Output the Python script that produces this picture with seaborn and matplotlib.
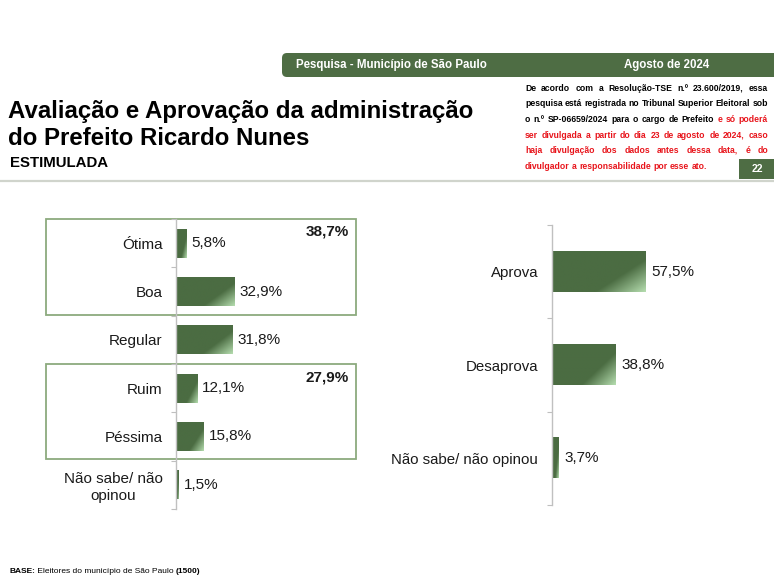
import numpy as np
import pandas as pd
import matplotlib
matplotlib.use("Agg")
import matplotlib.pyplot as plt
import seaborn as sns
from matplotlib.patches import Rectangle, FancyBboxPatch
from matplotlib.colors import to_rgb

# ---------------- data ----------------
aval_cats = ["Ótima", "Boa", "Regular", "Ruim", "Péssima", "Não sabe/ não\nopinou"]
aval_vals = [5.8, 32.9, 31.8, 12.1, 15.8, 1.5]
aval_group_totals = ["38,7%", "27,9%"]
aprov_cats = ["Aprova", "Desaprova", "Não sabe/ não opinou"]
aprov_vals = [57.5, 38.8, 3.7]

title_lines = ["Avaliação e Aprovação da administração", "do Prefeito Ricardo Nunes"]
subtitle = "ESTIMULADA"
header_left = "Pesquisa - Município de São Paulo"
header_right = "Agosto de 2024"
page_num = "22"

# ---------------- style ----------------
W, H = 774, 576
sns.set_theme(style="white")
plt.rcParams['font.family'] = ['Liberation Sans', 'DejaVu Sans']

DARK = np.array(to_rgb('#4b6c42'))
LIGHT = np.array(to_rgb('#b4dcae'))
GREEN = '#4e6d44'
BOX = '#8caa7e'
TXT = '#1a1a1a'

fig = plt.figure(figsize=(W / 100, H / 100), dpi=100)

# background axes in pixel coordinates
bg = fig.add_axes([0, 0, 1, 1], zorder=0)
bg.set_xlim(0, W)
bg.set_ylim(H, 0)
bg.axis('off')


def fx(x):
    return x / W


def fy(y):
    return 1 - y / H


def shade(ax):
    for p in list(ax.patches):
        x0, y0 = p.get_x(), p.get_y()
        w, h = p.get_width(), p.get_height()
        u = np.linspace(0, 1, 80)[None, :]
        v = np.linspace(0, 1, 40)[:, None]
        t = 0.6 * u + 0.4 * v
        f = np.clip((t - 0.68) / 0.32, 0, 1)
        img = DARK[None, None, :] * (1 - f[..., None]) + LIGHT[None, None, :] * f[..., None]
        ax.imshow(img, extent=(x0, x0 + w, y0 + h, y0), origin='upper',
                  aspect='auto', interpolation='bilinear', zorder=p.get_zorder() + 0.1)


def style_axis(ax, n, pad_pt, fs):
    ax.set_xlim(0, 100)
    ax.set_ylim(n - 0.5, -0.5)
    for s in ['top', 'right', 'bottom']:
        ax.spines[s].set_visible(False)
    ax.spines['left'].set_color('#c0c0c0')
    ax.spines['left'].set_linewidth(1.0)
    ax.set_xticks([])
    ax.set_xlabel('')
    ax.set_ylabel('')
    ax.tick_params(axis='y', which='major', left=False, length=0, pad=pad_pt,
                   labelsize=fs, labelcolor=TXT)
    ax.set_yticks(np.arange(-0.5, n, 1), minor=True)
    ax.tick_params(axis='y', which='minor', left=True, length=3.5, width=0.8,
                   color='#bfbfbf', direction='out')
    ax.set_facecolor('none')
    for t in ax.get_yticklabels():
        t.set_multialignment('center')


def fmt(v):
    return f"{v:.1f}%".replace('.', ',')


# ---------------- left chart ----------------
axL = fig.add_axes([fx(176), fy(509), 177 / W, 290 / H], zorder=2)
dfL = pd.DataFrame({'cat': aval_cats, 'val': aval_vals})
sns.barplot(data=dfL, x='val', y='cat', orient='h', ax=axL, width=0.6,
            color=DARK, saturation=1)
shade(axL)
style_axis(axL, len(aval_cats), 9.5, 11)
for i, v in enumerate(aval_vals):
    axL.text(v + 2.8, i, fmt(v), va='center', ha='left', fontsize=11, color=TXT)

# ---------------- right chart ----------------
axR = fig.add_axes([fx(552), fy(505), 163 / W, 280 / H], zorder=2)
dfR = pd.DataFrame({'cat': aprov_cats, 'val': aprov_vals})
sns.barplot(data=dfR, x='val', y='cat', orient='h', ax=axR, width=0.43,
            color=DARK, saturation=1)
shade(axR)
style_axis(axR, len(aprov_cats), 10, 10.8)
for i, v in enumerate(aprov_vals):
    axR.text(v + 3.7, i, fmt(v), va='center', ha='left', fontsize=11, color=TXT)

# ---------------- group boxes ----------------
bg.add_patch(Rectangle((46, 219), 310, 96, fill=False, ec=BOX, lw=1.3))
bg.add_patch(Rectangle((46, 364), 310, 95, fill=False, ec=BOX, lw=1.3))
bg.text(349, 232, aval_group_totals[0], ha='right', va='center', fontsize=11,
        fontweight='bold', color=TXT)
bg.text(349, 378, aval_group_totals[1], ha='right', va='center', fontsize=11,
        fontweight='bold', color=TXT)

# ---------------- header ----------------
bg.add_patch(FancyBboxPatch((282, 53), 520, 24, boxstyle="round,pad=0,rounding_size=5",
                            fc=GREEN, ec='none'))
bg.text(391, 65, header_left, ha='center', va='center', fontsize=8.3,
        fontweight='bold', color='white')
bg.text(667, 65, header_right, ha='center', va='center', fontsize=8.3,
        fontweight='bold', color='white')

# title
bg.text(8, 118, title_lines[0], ha='left', va='baseline', fontsize=17.3,
        fontweight='bold', color='black')
bg.text(8, 145, title_lines[1], ha='left', va='baseline', fontsize=17.3,
        fontweight='bold', color='black')
bg.text(10, 167, subtitle, ha='left', va='baseline', fontsize=10.8,
        fontweight='bold', color='black')

# separator line and page number
bg.plot([0, W], [181, 181], color='#d0d4cc', lw=1.6, solid_capstyle='butt')
bg.add_patch(Rectangle((739, 159), 40, 20, fc=GREEN, ec='none'))
bg.text(757, 169.5, page_num, ha='center', va='center', fontsize=7.5,
        fontweight='bold', color='white')

# ---------------- disclaimer (justified) ----------------
RED = '#e8141b'
disc = [
    [("De acordo com a Resolução-TSE n.º 23.600/2019, essa", 'black')],
    [("pesquisa está registrada no Tribunal Superior Eleitoral sob", 'black')],
    [("o n.º SP-06659/2024 para o cargo de Prefeito", 'black'), ("e só poderá", RED)],
    [("ser divulgada a partir do dia 23 de agosto de 2024, caso", RED)],
    [("haja divulgação dos dados antes dessa data, é do", RED)],
    [("divulgador a responsabilidade por esse ato.", RED)],
]
ys = [88, 103.5, 119, 134.5, 150, 166]
X0, X1 = 525, 768
fs_d = 6.2
renderer = fig.canvas.get_renderer()
tmp = bg.text(0, 0, "a a", fontsize=fs_d, fontweight='bold')
tmp2 = bg.text(0, 0, "aa", fontsize=fs_d, fontweight='bold')
space_w = tmp.get_window_extent(renderer).width - tmp2.get_window_extent(renderer).width
tmp.remove()
tmp2.remove()
for li, (parts, yc) in enumerate(zip(disc, ys)):
    words = []
    for txt, col in parts:
        for w in txt.split(' '):
            words.append((w, col))
    objs = []
    for w, col in words:
        t = bg.text(0, yc + 3, w, ha='left', va='baseline', fontsize=fs_d,
                    fontweight='bold', color=col)
        objs.append(t)
    widths = [o.get_window_extent(renderer).width for o in objs]
    if li < len(disc) - 1 and len(objs) > 1:
        gap = max((X1 - X0 - sum(widths)) / (len(objs) - 1), space_w * 0.8)
    else:
        gap = space_w
    x = X0
    for o, wd in zip(objs, widths):
        o.set_x(x)
        x += wd + gap

# ---------------- footer ----------------
foot = [("BASE:", 'bold'), (" Eleitores do município de São Paulo ", 'normal'), ("(1500)", 'bold')]
x = 9
for txt, wt in foot:
    t = bg.text(x, 573, txt, ha='left', va='baseline', fontsize=6, fontweight=wt, color='black')
    x += t.get_window_extent(renderer).width

fig.savefig('out.png', dpi=100)
